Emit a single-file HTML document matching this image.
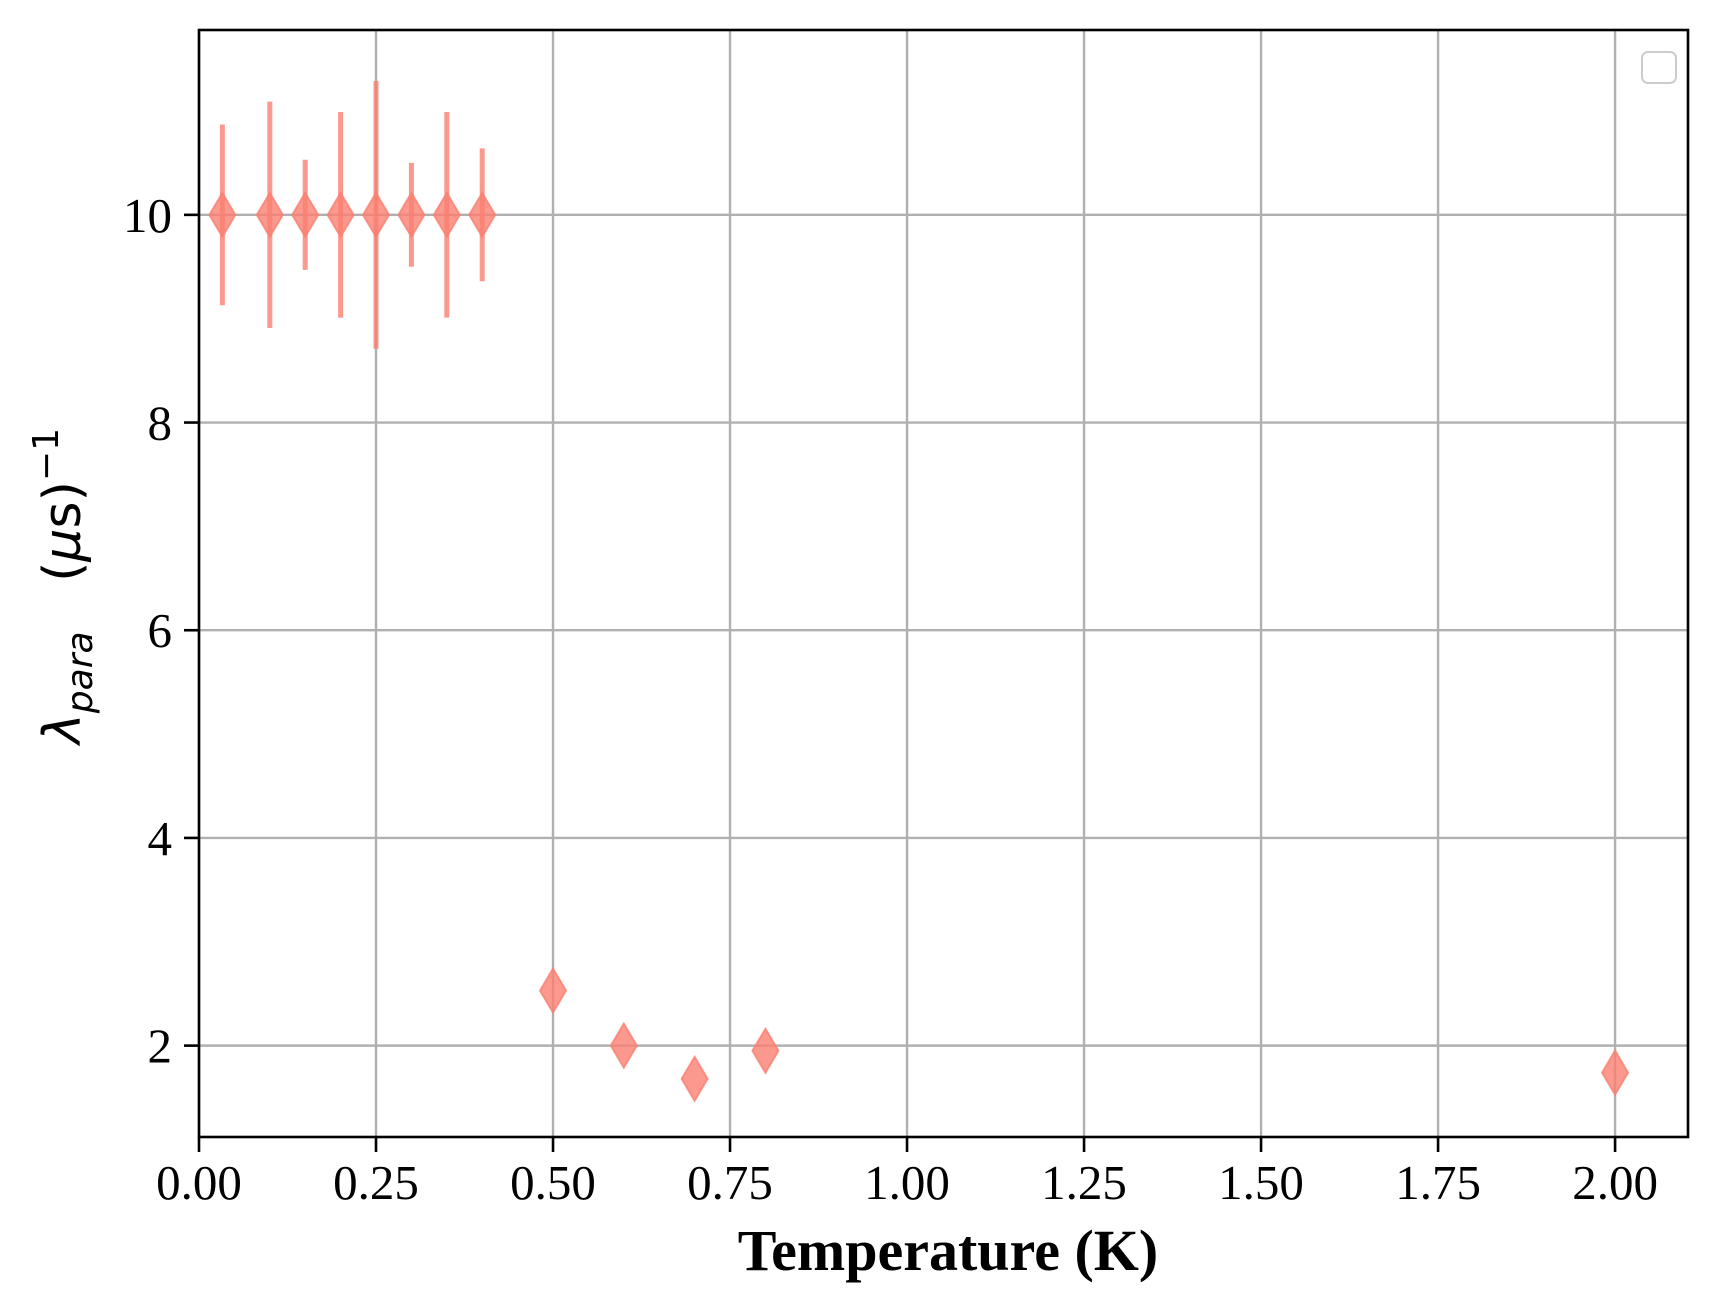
<!DOCTYPE html>
<html><head><meta charset="utf-8"><style>
body{margin:0;background:#fff}
svg text{font-family:"Liberation Serif",serif}
</style></head><body>
<svg id="chart" width="1717" height="1311" xmlns="http://www.w3.org/2000/svg">
<g id="grid"></g>
<g id="marks"></g>
<rect x="199" y="30" width="1489" height="1107" fill="none" stroke="#000" stroke-width="2.6"/>
<g id="ticks"></g>
<rect x="1642" y="52" width="34" height="31" rx="6" fill="#fff" stroke="#ccc" stroke-width="2"/>
<text x="948" y="1270" text-anchor="middle" font-size="58" font-weight="bold">Temperature (K)</text>
<text transform="translate(80,586) rotate(-90)" text-anchor="middle" font-size="52" style="font-family:'DejaVu Sans',sans-serif;white-space:pre" xml:space="preserve"><tspan font-style="italic">λ</tspan><tspan font-style="italic" font-size="36" dy="12">para</tspan><tspan dy="-12">   (</tspan><tspan font-style="italic">μ</tspan><tspan>s)</tspan><tspan font-size="36" dy="-22">−1</tspan></text>
</svg>
<script>
const temps=[0.033,0.1,0.15,0.2,0.25,0.3,0.35,0.4,0.5,0.6,0.7,0.8,2.0];
const lambdas=[10,10,10,10,10,10,10,10,2.53,2.0,1.68,1.95,1.74];
const errs=[0.87,1.09,0.53,0.99,1.29,0.5,0.99,0.64,0,0,0,0,0];
const xTicks=[0,0.25,0.5,0.75,1.0,1.25,1.5,1.75,2.0];
const xTickLabels=["0.00","0.25","0.50","0.75","1.00","1.25","1.50","1.75","2.00"];
const yTicks=[2,4,6,8,10];
const yTickLabels=["2","4","6","8","10"];
const X0=199,X1=1688,Y0=1137,Y1=30,xmin=0,xmax=2.103,ymin=1.12,ymax=11.78;
const xs=v=>X0+(v-xmin)/(xmax-xmin)*(X1-X0);
const ys=v=>Y0-(v-ymin)/(ymax-ymin)*(Y0-Y1);
const NS="http://www.w3.org/2000/svg";
function mk(t,a,p){const e=document.createElementNS(NS,t);for(const k in a)e.setAttribute(k,a[k]);p.appendChild(e);return e;}
const grid=document.getElementById('grid'),ticks=document.getElementById('ticks'),marks=document.getElementById('marks');
xTicks.forEach((v,i)=>{const x=xs(v);
 const g=mk('line',{x1:x,x2:x,y1:Y1,y2:Y0,stroke:'#b0b0b0','stroke-width':2.4},grid);
 
 
 const t=mk('line',{x1:x,x2:x,y1:Y0,y2:Y0+15,stroke:'#000','stroke-width':2.6},ticks);
 
 
 const l=mk('text',{x:x,y:Y0+62,'text-anchor':'middle','font-size':49},ticks);l.textContent=xTickLabels[i];
 
 });
yTicks.forEach((v,i)=>{const y=ys(v);
 const g=mk('line',{x1:X0,x2:X1,y1:y,y2:y,stroke:'#b0b0b0','stroke-width':2.4},grid);
 
 
 const t=mk('line',{x1:X0-15,x2:X0,y1:y,y2:y,stroke:'#000','stroke-width':2.6},ticks);
 
 
 const l=mk('text',{x:X0-27,y:y+17,'text-anchor':'end','font-size':49},ticks);l.textContent=yTickLabels[i];
 
 });
temps.forEach((t,i)=>{const x=xs(t),y=ys(lambdas[i]);
 if(errs[i]>0){const e=mk('line',{x1:x,x2:x,y1:ys(lambdas[i]+errs[i]),y2:ys(lambdas[i]-errs[i]),stroke:'#fa8072','stroke-opacity':0.8,'stroke-width':5},marks);
 
 }
 const m=mk('polygon',{points:`${x},${y-22} ${x+13},${y} ${x},${y+22} ${x-13},${y}`,fill:'#fa8072','fill-opacity':0.8,stroke:'#fa8072','stroke-opacity':0.8,'stroke-width':2},marks);
 
 });
</script>
</body></html>
